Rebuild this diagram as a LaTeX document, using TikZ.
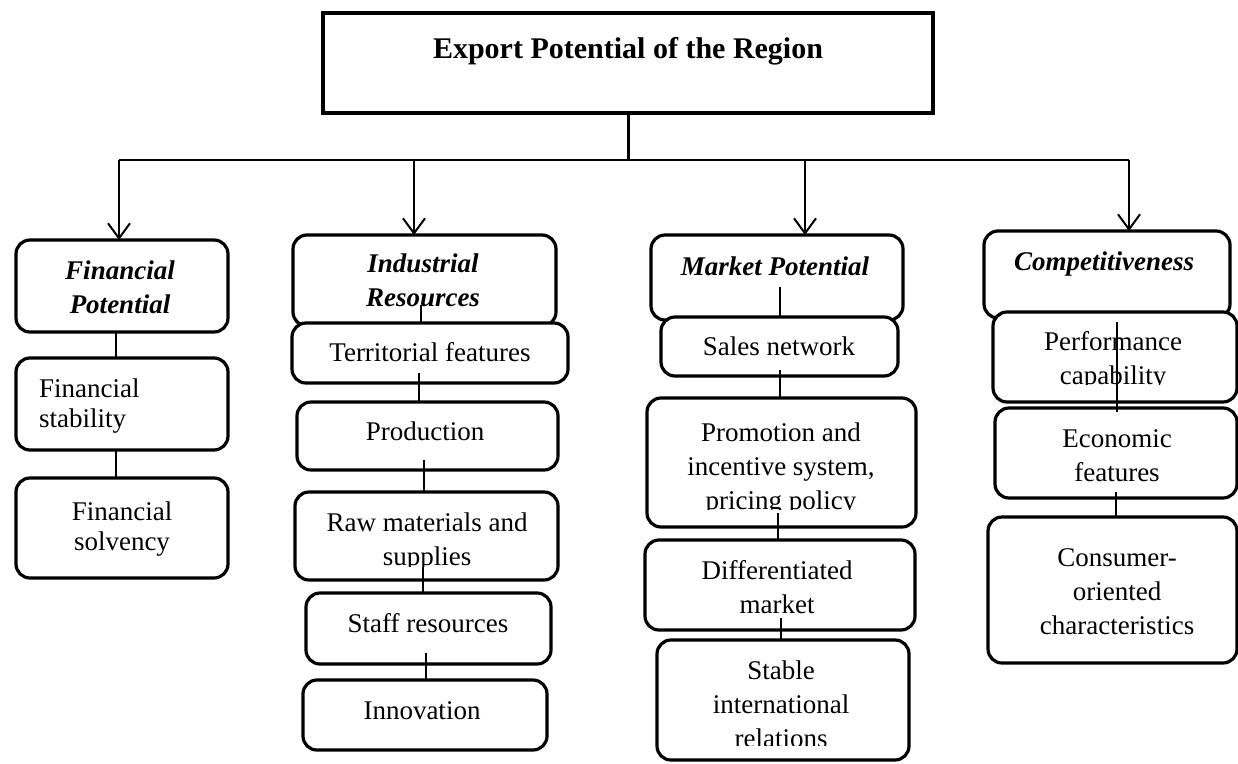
\documentclass[tikz,border=0pt]{standalone}
\usepackage{fontspec}
\setmainfont{Liberation Serif}
\usetikzlibrary{arrows.meta}
\newcommand\bodysize{\fontsize{27}{34}\selectfont}
\newcommand\tightsize{\fontsize{27}{30}\selectfont}
\begin{document}
\begin{tikzpicture}[x=1pt,y=-1pt,
  titlebox/.style={draw, line width=4pt, fill=white, inner sep=0pt, outer sep=0pt},
  card/.style={draw, line width=3.2pt, rounded corners=14pt, fill=white, inner sep=0pt, outer sep=0pt},
  boxtext/.style={inner sep=0pt, align=center, font=\bodysize, yshift=-4pt,
    execute at begin node=\strut, execute at end node=\strut},
  headtext/.style={boxtext, font=\bodysize\bfseries\itshape},
  tie/.style={line width=1.3pt},
  feed/.style={line width=2pt, -{Straight Barb[length=15pt,width=22pt]}}
]
\useasboundingbox[fill=white] (0,0) rectangle (1238,763);

% root box
\node[titlebox, minimum width=610pt, minimum height=100pt] (top) at (628,63) {};
\node[font=\fontsize{30}{34}\selectfont\bfseries, inner sep=0pt, anchor=base] (ttl) at (628,58) {Export Potential of the Region};

% financial column
\node[card, minimum width=212pt, minimum height=92pt]  (fh) at (122,286) {};
\node[card, minimum width=212pt, minimum height=92pt]  (fs) at (122,404) {};
\node[card, minimum width=212pt, minimum height=100pt] (fv) at (122,528) {};

% industrial column
\node[card, minimum width=263pt, minimum height=91pt] (ih) at (424.5,280.5) {};
\node[card, minimum width=276pt, minimum height=60pt] (it) at (430,353) {};
\node[card, minimum width=261pt, minimum height=68pt] (ip) at (427.5,436) {};
\node[card, minimum width=263pt, minimum height=88pt] (ir) at (426.5,536) {};
\node[card, minimum width=245pt, minimum height=71pt] (is) at (428.5,628.5) {};
\node[card, minimum width=244pt, minimum height=70pt] (ii) at (425,715) {};

% market column
\node[card, minimum width=252pt, minimum height=85pt]  (mh) at (777,277.5) {};
\node[card, minimum width=237pt, minimum height=59pt]  (ms) at (779.5,346.5) {};
\node[card, minimum width=269pt, minimum height=129pt] (mp) at (781.5,462.5) {};
\node[card, minimum width=270pt, minimum height=90pt]  (md) at (780,585) {};
\node[card, minimum width=252pt, minimum height=120pt] (mr) at (783,700) {};

% competitiveness column
\node[card, minimum width=246pt, minimum height=87pt]  (ch) at (1107,274.5) {};
\node[card, minimum width=244pt, minimum height=90pt]  (cp) at (1115,357) {};
\node[card, minimum width=242pt, minimum height=90pt]  (ce) at (1116,453) {};
\node[card, minimum width=249pt, minimum height=146pt] (cc) at (1112.5,590) {};

% distribution bus
\coordinate (b1) at (119,160);
\coordinate (b2) at (414,160);
\coordinate (b3) at (805,160);
\coordinate (b4) at (1129,160);
\draw[line width=3pt] (top.south) -- (top.south |- b1);
\draw[line width=2pt] (b1) -- (b4);
\draw[feed] (b1) -- (b1 |- fh.north);
\draw[feed] (b2) -- (b2 |- ih.north);
\draw[feed] (b3) -- (b3 |- mh.north);
\draw[feed] (b4) -- (b4 |- ch.north);

% texts
\node[headtext] (tfh) at (120,288.5) {Financial\\Potential};
\node[boxtext, font=\tightsize, align=left, anchor=west] (tfs) at (39,404) {Financial\\stability};
\node[boxtext, font=\tightsize] (tfv) at (122,527) {Financial\\solvency};

\node[headtext] (tih) at (423,281.5) {Industrial\\Resources};
\node[boxtext] (tit) at (430,351) {Territorial features};
\node[boxtext] (tip) at (425,430) {Production};
\begin{scope}
  \clip (280,480) rectangle (580,566);
  \node[boxtext] (tir) at (427,540) {Raw materials and\\supplies};
\end{scope}
\node[boxtext] (tis) at (428,622) {Staff resources};
\node[boxtext] (tii) at (422,709) {Innovation};

\node[headtext] (tmh) at (775,265) {Market Potential};
\node[boxtext] (tms) at (779,345) {Sales network};
\begin{scope}
  \clip (640,400) rectangle (920,509);
  \node[boxtext] (tmp) at (781,467) {Promotion and\\incentive system,\\pricing policy};
\end{scope}
\node[boxtext] (tmd) at (777,588.5) {Differentiated\\market};
\begin{scope}
  \clip (640,645) rectangle (920,745);
  \node[boxtext] (tmr) at (781,705.5) {Stable\\international\\relations};
\end{scope}

\node[headtext] (tch) at (1104,260) {Competitiveness};
\begin{scope}
  \clip (990,315) rectangle (1238,384);
  \node[boxtext] (tcp) at (1113,359.5) {Performance\\capability};
\end{scope}
\node[boxtext] (tce) at (1117,456.5) {Economic\\features};
\node[boxtext] (tcc) at (1117,593) {Consumer-\\oriented\\characteristics};

% thin ties between stacked boxes
\coordinate (kf) at (116,0);
\draw[tie] (kf |- fh.south) -- (kf |- fs.north);
\draw[tie] (kf |- fs.south) -- (kf |- fv.north);

\coordinate (k1) at (421,305);
\coordinate (k2) at (419,373);
\coordinate (k3) at (424,460);
\coordinate (k4) at (423,567);
\coordinate (k5) at (426,653);
\draw[tie] (k1) -- (k1 |- it.north);
\draw[tie] (k2) -- (k2 |- ip.north);
\draw[tie] (k3) -- (k3 |- ir.north);
\draw[tie] (k4) -- (k4 |- is.north);
\draw[tie] (k5) -- (k5 |- ii.north);

\coordinate (m1) at (780,287);
\coordinate (m2) at (780,370);
\coordinate (m3) at (778,513);
\coordinate (m4) at (781,618);
\draw[tie] (m1) -- (m1 |- ms.north);
\draw[tie] (m2) -- (m2 |- mp.north);
\draw[tie] (m3) -- (m3 |- md.north);
\draw[tie] (m4) -- (m4 |- mr.north);

\coordinate (c1) at (1117,322);
\coordinate (c2) at (1116,492);
\draw[tie] (c1) -- ([yshift=-4pt]c1 |- ce.north);
\draw[tie] (c2) -- (c2 |- cc.north);
\end{tikzpicture}
\end{document}
